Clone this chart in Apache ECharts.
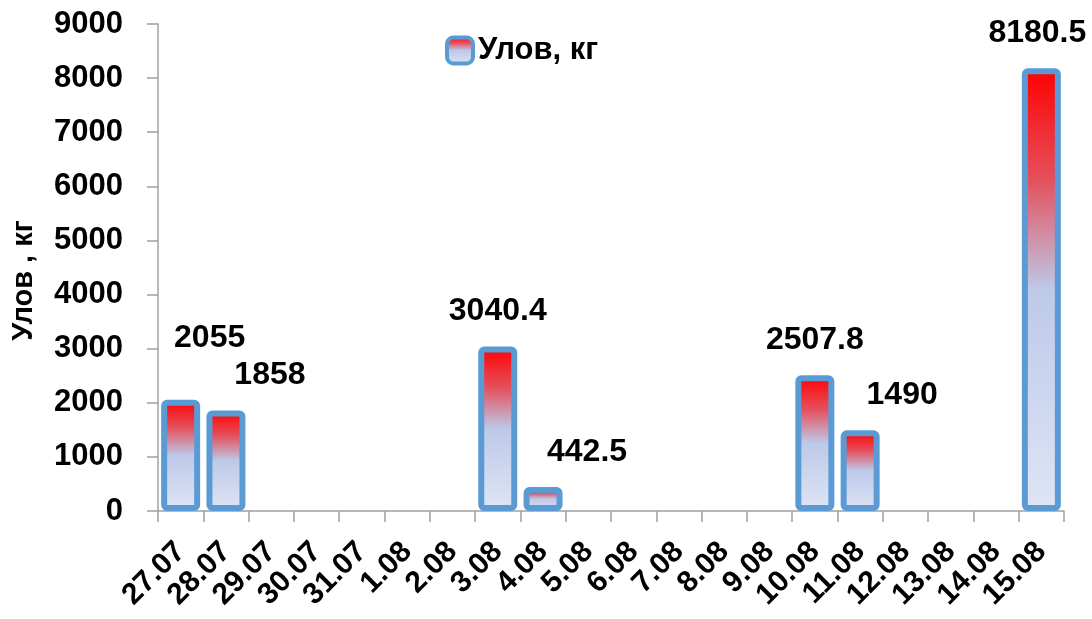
<!DOCTYPE html>
<html>
<head>
<meta charset="utf-8">
<script src="https://cdn.jsdelivr.net/npm/echarts@6/dist/echarts.min.js"></script>
<style>
html,body{margin:0;padding:0;background:#fff;}
#chart{width:1092px;height:619px;}
</style>
</head>
<body>
<div id="chart"></div>
<script>
const categories = ['27.07','28.07','29.07','30.07','31.07','1.08','2.08','3.08','4.08','5.08','6.08','7.08','8.08','9.08','10.08','11.08','12.08','13.08','14.08','15.08'];
const catchValues = [2055, 1858, null, null, null, null, null, 3040.4, 442.5, null, null, null, null, null, 2507.8, 1490, null, null, null, 8180.5];
const yTicks = [0, 1000, 2000, 3000, 4000, 5000, 6000, 7000, 8000, 9000];
const seriesName = 'Улов, кг';
const yAxisTitle = 'Улов , кг';

const labelOffsets = {0:[29,-27], 1:[44,0], 7:[0,0], 8:[44,0], 14:[0,0], 15:[42,0], 19:[-4,0]};

const font = '"Liberation Sans", Arial, sans-serif';
const axisColor = '#a0a0a0';

const barFill = new echarts.graphic.LinearGradient(0, 0, 0, 1, [
  {offset: 0, color: '#ff0000'},
  {offset: 0.25, color: '#e4505c'},
  {offset: 0.5, color: '#bdc9e8'},
  {offset: 1, color: '#dfe5f5'}
]);

const data = catchValues.map((v, i) => {
  if (v === null) return '-';
  const off = labelOffsets[i] || [0, 0];
  return {value: v, label: {offset: off}};
});

const chart = echarts.init(document.getElementById('chart'));
chart.setOption({
  animation: false,
  backgroundColor: '#ffffff',
  grid: {left: 158, right: 28, top: 24, bottom: 108, containLabel: false},
  legend: {
    data: [seriesName],
    left: 440, top: 30,
    itemWidth: 26, itemHeight: 26, itemGap: 10,
    itemStyle: {borderWidth: 4, borderRadius: 1},
    textStyle: {fontFamily: font, fontWeight: 'bold', fontSize: 31, color: '#000', padding: [0,0,0,0]}
  },
  xAxis: {
    type: 'category',
    data: categories,
    axisLine: {lineStyle: {color: axisColor, width: 1.5}},
    axisTick: {show: true, length: 11, lineStyle: {color: axisColor, width: 1.5}},
    axisLabel: {rotate: 45, interval: 0, margin: 36, fontFamily: font, fontWeight: 'bold', fontSize: 30, color: '#000'}
  },
  yAxis: {
    type: 'value',
    min: yTicks[0], max: yTicks[yTicks.length - 1], interval: 1000,
    name: yAxisTitle,
    nameLocation: 'middle',
    nameGap: 120,
    nameTextStyle: {fontFamily: font, fontWeight: 'bold', fontSize: 29, color: '#000', padding: [0, 26, 0, 0]},
    axisLine: {show: true, lineStyle: {color: axisColor, width: 1.5}},
    axisTick: {show: true, length: 11, lineStyle: {color: axisColor, width: 1.5}},
    splitLine: {show: false},
    axisLabel: {margin: 35, fontFamily: font, fontWeight: 'bold', fontSize: 31, color: '#000', formatter: v => String(v)}
  },
  series: [{
    name: seriesName,
    type: 'bar',
    data: data,
    barWidth: 39,
    itemStyle: {color: barFill, borderColor: '#5b9bd5', borderWidth: 6, borderRadius: 3},
    label: {
      show: true, position: 'top', distance: 19,
      fontFamily: font, fontWeight: 'bold', fontSize: 32, color: '#000'
    }
  }]
});
</script>
</body>
</html>
